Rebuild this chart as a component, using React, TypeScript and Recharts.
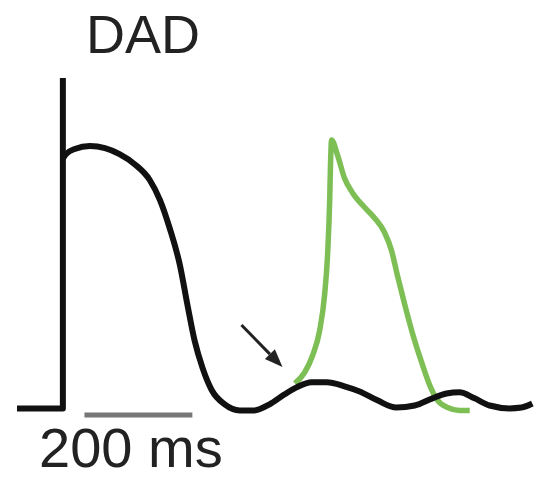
import React from "react";
import { LineChart, Line, XAxis, YAxis, ReferenceLine } from "recharts";

// time in ms, membrane potential in mV
const upstroke = [
  { t: -85, v: -85 },
  { t: 0, v: -85 },
  { t: 0, v: 30 },
  { t: 0, v: 2 },
];

const mainTrace = [
  { t: 0, v: 2 },
  { t: 6, v: 3.5 },
  { t: 22, v: 5.3 },
  { t: 50, v: 6.3 },
  { t: 78, v: 5.6 },
  { t: 105, v: 3.5 },
  { t: 133, v: 0 },
  { t: 161, v: -5.5 },
  { t: 180, v: -12.5 },
  { t: 198, v: -22.3 },
  { t: 217, v: -35.2 },
  { t: 231, v: -49.1 },
  { t: 244, v: -61.3 },
  { t: 259, v: -71 },
  { t: 276, v: -78.7 },
  { t: 300, v: -83.6 },
  { t: 328, v: -85.7 },
  { t: 355, v: -85.7 },
  { t: 383, v: -83.6 },
  { t: 411, v: -80.1 },
  { t: 433, v: -77.7 },
  { t: 461, v: -75.9 },
  { t: 489, v: -75.9 },
  { t: 522, v: -77.3 },
  { t: 550, v: -79.1 },
  { t: 583, v: -82.2 },
  { t: 618, v: -84.7 },
  { t: 652, v: -84 },
  { t: 685, v: -81.5 },
  { t: 711, v: -79.8 },
  { t: 735, v: -79.4 },
  { t: 763, v: -81.5 },
  { t: 791, v: -84 },
  { t: 828, v: -85 },
  { t: 850, v: -84.7 },
  { t: 870, v: -83.3 },
];

// triggered beat from the DAD
const triggered = [
  { t: 430, v: -76.3 },
  { t: 448, v: -72.5 },
  { t: 463, v: -66.5 },
  { t: 476, v: -57.8 },
  { t: 485, v: -45.6 },
  { t: 491, v: -30 },
  { t: 494.5, v: -12.5 },
  { t: 496, v: -0.3 },
  { t: 498, v: 8.4 },
  { t: 509, v: 3.2 },
  { t: 522, v: -4.9 },
  { t: 537, v: -10 },
  { t: 559, v: -15 },
  { t: 578, v: -18.8 },
  { t: 596, v: -23.7 },
  { t: 609, v: -30 },
  { t: 620, v: -38.7 },
  { t: 633, v: -48.4 },
  { t: 648, v: -58.9 },
  { t: 665, v: -69 },
  { t: 680, v: -77 },
  { t: 694.5, v: -82.2 },
  { t: 713, v: -84.7 },
  { t: 735, v: -85.7 },
  { t: 754, v: -85.7 },
];

const scaleBar = [
  { t: 40, v: -87.3 },
  { t: 240, v: -87.3 },
];
const arrow = [
  { t: 331, v: -56 },
  { t: 407, v: -70.6 },
];

const Arrow = (props: any) => {
  const { x1, y1, x2, y2 } = props;
  if (x1 == null) return null;
  const ang = Math.atan2(y2 - y1, x2 - x1);
  const len = 18;
  const w = 7;
  const bx = x2 - len * Math.cos(ang);
  const by = y2 - len * Math.sin(ang);
  const px = -Math.sin(ang) * w;
  const py = Math.cos(ang) * w;
  return (
    <g>
      <line x1={x1} y1={y1} x2={bx} y2={by} stroke="#222" strokeWidth={3} />
      <polygon
        points={`${x2},${y2} ${bx + px},${by + py} ${bx - px},${by - py}`}
        fill="#222"
      />
    </g>
  );
};

const textStyle: React.CSSProperties = {
  position: "absolute",
  fontFamily: "'Liberation Sans', Arial, sans-serif",
  lineHeight: 1,
  color: "#222",
  whiteSpace: "nowrap",
};

export default function App() {
  return (
    <div style={{ position: "relative", width: 539, height: 480, background: "#fff" }}>
      <style>{"body{margin:0}"}</style>
      <LineChart
        width={539}
        height={480}
        margin={{ top: 78, right: 4, bottom: 63, left: 17 }}
      >
        <XAxis type="number" dataKey="t" domain={[-85, 875]} hide allowDataOverflow />
        <YAxis type="number" domain={[-88, 30]} hide allowDataOverflow />
        <ReferenceLine
          segment={[
            { x: scaleBar[0].t, y: scaleBar[0].v },
            { x: scaleBar[1].t, y: scaleBar[1].v },
          ]}
          stroke="#777"
          strokeWidth={5}
        />
        <ReferenceLine
          segment={[
            { x: arrow[0].t, y: arrow[0].v },
            { x: arrow[1].t, y: arrow[1].v },
          ]}
          shape={Arrow}
        />
        <Line
          data={triggered}
          dataKey="v"
          type="monotone"
          stroke="#7dbf55"
          strokeWidth={5.5}
          strokeLinejoin="round"
          dot={false}
          isAnimationActive={false}
        />
        <Line
          data={upstroke}
          dataKey="v"
          type="linear"
          stroke="#111"
          strokeWidth={6}
          strokeLinejoin="round"
          dot={false}
          isAnimationActive={false}
        />
        <Line
          data={mainTrace}
          dataKey="v"
          type="monotone"
          stroke="#111"
          strokeWidth={6}
          dot={false}
          isAnimationActive={false}
        />
      </LineChart>
      <div style={{ ...textStyle, fontSize: 54, left: 86, top: 7 }}>DAD</div>
      <div style={{ ...textStyle, fontSize: 56, left: 39, top: 420 }}>200 ms</div>
    </div>
  );
}
